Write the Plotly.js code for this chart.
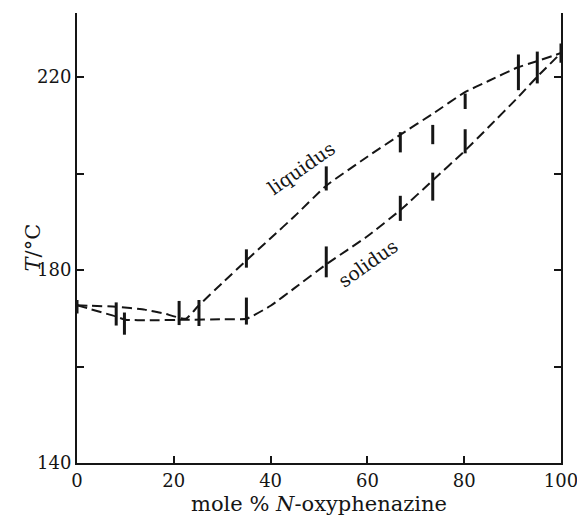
<!DOCTYPE html>
<html>
<head>
<meta charset="utf-8">
<script src="https://cdn.plot.ly/plotly-3.0.1.min.js"></script>
<style>html,body{margin:0;padding:0;background:#fff;}#chart{width:577px;height:519px;}</style>
</head>
<body>
<div id="chart"></div>
<script>
// Liquidus curve (mole % vs T/°C)
const liquidusX = [0, 8, 14, 18, 22.5, 25, 30, 35, 40, 45, 51.5, 60, 67, 73.5, 80, 85, 91, 95, 100];
const liquidusY = [172.7, 172.4, 171.8, 171.0, 169.9, 172.5, 177.3, 182.0, 186.6, 191.2, 197.5, 203.5, 208.2, 212.4, 216.8, 219.2, 222.0, 223.3, 225.0];
// Solidus curve
const solidusX = [0, 8, 10, 15, 22.5, 30, 35, 40, 45, 51.5, 60, 67, 73.5, 80, 85, 91, 95, 100];
const solidusY = [172.7, 170.4, 169.7, 169.6, 169.7, 169.8, 169.9, 172.6, 176.3, 181.2, 187.0, 192.6, 198.6, 204.6, 209.6, 215.7, 220.0, 225.0];
// Measured temperature ranges (vertical bars)
const barX    = [0, 8.1, 9.8, 21.1, 25.2, 35, 35, 51.5, 51.5, 66.8, 66.8, 73.5, 73.5, 80.2, 80.2, 91.2, 95.1, 100];
const barMid  = [172.4, 170.9, 168.9, 171.1, 171.1, 182.4, 171.5, 199.0, 181.7, 206.5, 192.8, 208.1, 197.3, 215.0, 206.7, 221.0, 222.0, 225.0];
const barHalf = [1.4, 2.4, 2.3, 2.5, 2.7, 1.9, 2.8, 2.5, 3.2, 2.1, 2.6, 2.0, 2.9, 1.6, 2.5, 3.7, 3.3, 2.0];
// Axis ticks
const yTickVals = [140, 160, 180, 200, 220];
const yTickText = ['140', '', '180', '', '220'];
const xTickVals = [0, 20, 40, 60, 80, 100];
// Titles
const xTitle = 'mole % <i>N</i>-oxyphenazine';
const yTitle = '<i>T</i>/°C';

const ink = '#151515';
const serif = 'DejaVu Serif, Liberation Serif, serif';

const traces = [
  {x: liquidusX, y: liquidusY, type: 'scatter', mode: 'lines', name: 'liquidus',
   line: {color: ink, width: 2, dash: '10px,5px', shape: 'spline', smoothing: 0.4}, hoverinfo: 'skip'},
  {x: solidusX, y: solidusY, type: 'scatter', mode: 'lines', name: 'solidus',
   line: {color: ink, width: 2, dash: '10px,5px', shape: 'spline', smoothing: 0.4}, hoverinfo: 'skip'},
  {x: barX, y: barMid, type: 'scatter', mode: 'markers', name: 'measurements',
   marker: {size: 1, color: ink, opacity: 0}, cliponaxis: false,
   error_y: {type: 'data', symmetric: true, array: barHalf, width: 0, thickness: 3, color: ink}}
];

const layout = {
  width: 577, height: 519,
  margin: {l: 77, r: 16, t: 13, b: 56},
  paper_bgcolor: '#fff', plot_bgcolor: '#fff',
  showlegend: false,
  font: {family: serif, size: 18, color: ink},
  xaxis: {
    range: [0, 100], tickvals: xTickVals, ticks: 'inside', ticklen: 7, tickwidth: 2, tickcolor: ink,
    showline: true, linewidth: 2, linecolor: ink, showgrid: false, zeroline: false, mirror: false,
    ticklabeloverflow: 'allow',
    tickfont: {family: serif, size: 18, color: ink}
  },
  yaxis: {
    range: [140, 233.3], tickvals: yTickVals, ticktext: yTickText, ticks: 'inside', ticklen: 7, tickwidth: 2, tickcolor: ink,
    showline: true, linewidth: 2, linecolor: ink, showgrid: false, zeroline: false, mirror: 'ticks',
    tickfont: {family: serif, size: 18, color: ink}
  },
  annotations: [
    {x: 0.5, y: -0.09, xref: 'paper', yref: 'paper', xanchor: 'center', yanchor: 'middle',
     text: xTitle, showarrow: false, font: {family: serif, size: 21, color: ink}},
    {x: -0.09, y: 0.48, xref: 'paper', yref: 'paper', xanchor: 'center', yanchor: 'middle',
     text: yTitle, showarrow: false, textangle: -90, font: {family: serif, size: 21, color: ink}},
    {x: 46.3, y: 201.1, xref: 'x', yref: 'y', text: 'liquidus', showarrow: false, textangle: -35,
     font: {family: serif, size: 19, color: ink}},
    {x: 60.1, y: 181.5, xref: 'x', yref: 'y', text: 'solidus', showarrow: false, textangle: -35,
     font: {family: serif, size: 19, color: ink}}
  ]
};

Plotly.newPlot('chart', traces, layout, {staticPlot: true, displayModeBar: false});
</script>
</body>
</html>
